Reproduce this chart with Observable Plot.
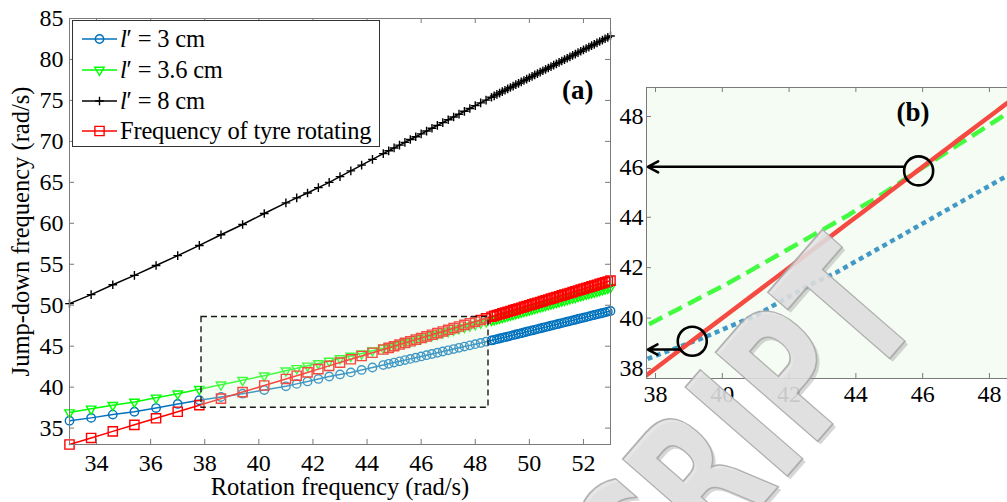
<!DOCTYPE html>
<html>
<head>
<meta charset="utf-8">
<script src="https://cdn.jsdelivr.net/npm/d3@7"></script>
<script src="https://cdn.jsdelivr.net/npm/@observablehq/plot@0.6"></script>
<style>
  html, body { margin: 0; padding: 0; background: #fff; }
  #wrap { position: relative; width: 1007px; height: 502px; overflow: hidden; background: #fff;
          font-family: "Liberation Serif", "Times New Roman", serif; }
  #panelA, #panelB, #legend, #wm { position: absolute; top: 0; }
  #panelA { left: 0; width: 612px; }
  #panelB { left: 600px; width: 434px; }
  #panelA svg, #panelB svg { max-width: none !important; }
  #legend { left: 72px; top: 20px; width: 308px; height: 127px; box-sizing: border-box;
            border: 1px solid #333; background: #fff; }
  .lrow { position: absolute; left: 0; height: 30px; display: flex; align-items: center; }
  .lrow span { font-size: 24.5px; color: #000; white-space: nowrap; margin-left: 1px; letter-spacing: -0.2px; }
  #wm { left: 0; pointer-events: none; }
</style>
</head>
<body>
<div id="wrap">
  <div id="panelA"></div>
  <div id="panelB"></div>
  <div id="legend"></div>
  <svg id="wm" width="1007" height="502"></svg>
</div>
<script>
// ---------- data ----------
const rotation = [33.0,33.8,34.6,35.4,36.2,37.0,37.8,38.6,39.4,40.2,41.0,
  41.4,41.8,42.2,42.6,43.0,43.4,43.8,44.2,44.6,
  44.8,45.0,45.2,45.4,45.6,45.8,46.0,46.2,46.4,46.6,46.8,47.0,47.2,47.4,47.6,47.8,48.0,48.2,48.4,48.6,
  48.7,48.8,48.9,49.0,49.1,49.2,49.3,49.4,49.5,49.6,49.7,49.8,49.9,50.0,50.1,50.2,50.3,50.4,50.5,50.6,
  50.7,50.8,50.9,51.0,51.1,51.2,51.3,51.4,51.5,51.6,51.7,51.8,51.9,52.0,52.1,52.2,52.3,52.4,52.5,52.6,
  52.7,52.8,52.9,53.0];

const jump3 = [35.9,36.25,36.65,37.0,37.45,37.95,38.4,38.8,39.2,39.65,40.1,
  40.4,40.7,41.0,41.3,41.55,41.8,42.1,42.4,42.7,
  42.85,43.0,43.15,43.3,43.45,43.6,43.75,43.9,44.05,44.2,44.35,44.5,44.65,44.8,44.95,45.1,45.25,45.4,45.55,45.7,
  45.78,45.86,45.94,46.02,46.1,46.18,46.27,46.35,46.43,46.51,46.59,46.68,46.76,46.84,46.92,47.0,47.09,47.17,47.25,47.33,
  47.41,47.5,47.58,47.66,47.74,47.82,47.91,47.99,48.07,48.15,48.23,48.32,48.4,48.48,48.56,48.64,48.73,48.81,48.89,48.97,
  49.05,49.14,49.22,49.3];

const jump36 = [36.9,37.35,37.8,38.2,38.7,39.2,39.75,40.3,40.85,41.4,42.0,
  42.3,42.6,42.9,43.2,43.5,43.8,44.1,44.45,44.75,
  44.93,45.1,45.27,45.45,45.62,45.8,45.97,46.14,46.31,46.48,46.65,46.82,46.99,47.16,47.33,47.5,47.67,47.84,48.01,48.18,
  48.27,48.36,48.45,48.54,48.64,48.73,48.82,48.91,49.0,49.09,49.18,49.27,49.36,49.46,49.55,49.64,49.73,49.82,49.91,50.0,
  50.09,50.18,50.28,50.37,50.46,50.55,50.64,50.73,50.82,50.91,51.0,51.1,51.19,51.28,51.37,51.46,51.55,51.64,51.73,51.82,
  51.92,52.01,52.1,52.19];

const jump8 = [50.2,51.3,52.5,53.65,54.85,56.05,57.3,58.6,59.85,61.2,62.5,
  63.1,63.7,64.35,65.0,65.7,66.4,67.1,67.8,68.5,
  68.85,69.2,69.54,69.88,70.23,70.57,70.92,71.26,71.6,71.95,72.29,72.64,72.98,73.32,73.67,74.01,74.36,74.7,75.04,75.39,
  75.56,75.73,75.9,76.07,76.24,76.41,76.58,76.75,76.92,77.09,77.26,77.43,77.6,77.77,77.94,78.11,78.28,78.45,78.62,78.79,
  78.96,79.13,79.3,79.47,79.64,79.81,79.98,80.15,80.32,80.49,80.66,80.83,81.0,81.17,81.34,81.51,81.68,81.85,82.02,82.19,
  82.36,82.53,82.7,82.87];

const tyre = [33.0,33.8,34.6,35.4,36.2,37.0,37.8,38.6,39.4,40.2,41.0,
  41.4,41.8,42.2,42.6,43.0,43.4,43.8,44.2,44.6,
  44.8,45.0,45.2,45.4,45.6,45.8,46.0,46.2,46.4,46.6,46.8,47.0,47.2,47.4,47.6,47.8,48.0,48.2,48.4,48.6,
  48.7,48.8,48.9,49.0,49.1,49.2,49.3,49.4,49.5,49.6,49.7,49.8,49.9,50.0,50.1,50.2,50.3,50.4,50.5,50.6,
  50.7,50.8,50.9,51.0,51.1,51.2,51.3,51.4,51.5,51.6,51.7,51.8,51.9,52.0,52.1,52.2,52.3,52.4,52.5,52.6,
  52.7,52.8,52.9,53.0];

const seriesLabels = ["l′ = 3 cm", "l′ = 3.6 cm", "l′ = 8 cm", "Frequency of tyre rotating"];

const xTicksA = [34,36,38,40,42,44,46,48,50,52];
const yTicksA = [35,40,45,50,55,60,65,70,75,80,85];
const xTicksB = [38,40,42,44,46,48];
const yTicksB = [38,40,42,44,46,48];

// zoomed window drawn in (a)
const boxX = [37.88, 48.49];
const boxY = [37.48, 48.57];

// annotations in (b)
const circleX = [39.1, 45.88];
const circleY = [39.08, 45.84];
const arrowFromX = [38.75, 45.43];
const arrowToX = [37.77, 37.77];
const arrowY = [38.75, 46.0];

const xTitle = "Rotation frequency (rad/s)";
const yTitle = "Jump-down frequency (rad/s)";
const tagA = "(a)";
const tagB = "(b)";
const watermark = "MANUSCRIPT";

// ---------- drawing ----------
const axisGray = "#7a7a7a";
const washColor = "rgb(222,245,215)";
const font = "Liberation Serif, Times New Roman, serif";
const rowsOf = ys => rotation.map((x, i) => ({x, y: ys[i]}));

const series = [
  {label: seriesLabels[0], ys: jump3,  color: "#0072BD", symbol: "circle",   r: 4.2, rotate: 0,   dash: "5,4"},
  {label: seriesLabels[1], ys: jump36, color: "#00FF00", symbol: "triangle", r: 3.5, rotate: 180, dash: "15,7"},
  {label: seriesLabels[2], ys: jump8,  color: "#000000", symbol: "plus",     r: 2.9, rotate: 0,   dash: null},
  {label: seriesLabels[3], ys: tyre,   color: "#FF0000", symbol: "square",   r: 5.2, rotate: 0,   dash: null}
];

const box = [{x1: boxX[0], x2: boxX[1], y1: boxY[0], y2: boxY[1]}];

const plotA = Plot.plot({
  width: 612, height: 502,
  marginLeft: 69, marginRight: 2, marginTop: 18, marginBottom: 58,
  x: {domain: [33, 53]},
  y: {domain: [33, 85]},
  style: {fontFamily: font, fontSize: "24px", color: "#000", background: "transparent", overflow: "visible"},
  marks: [
    ...series.flatMap(s => [
      Plot.line(rowsOf(s.ys), {x: "x", y: "y", stroke: s.color, strokeWidth: 1.5}),
      Plot.dot(rowsOf(s.ys), {x: "x", y: "y", symbol: s.symbol, r: s.r, rotate: s.rotate,
        stroke: s.color, fill: "none", strokeWidth: 1.4})
    ]),
    Plot.rect(box, {x1: "x1", x2: "x2", y1: "y1", y2: "y2", fill: washColor, fillOpacity: 0.3}),
    Plot.rect(box, {x1: "x1", x2: "x2", y1: "y1", y2: "y2", fill: "none", stroke: "#1a1a1a",
      strokeWidth: 1.4, strokeDasharray: "6,4"}),
    Plot.tickX(xTicksA, {x: d => d, insetTop: 421, stroke: axisGray}),
    Plot.tickX(xTicksA, {x: d => d, insetBottom: 421, stroke: axisGray}),
    Plot.tickY(yTicksA, {y: d => d, insetRight: 536, stroke: axisGray}),
    Plot.tickY(yTicksA, {y: d => d, insetLeft: 536, stroke: axisGray}),
    Plot.frame({stroke: axisGray}),
    Plot.axisX(xTicksA, {tickSize: 0, tickPadding: 9, label: null, fontSize: 24}),
    Plot.axisY(yTicksA, {tickSize: 0, tickPadding: 6, label: null, fontSize: 24}),
    Plot.text([xTitle], {frameAnchor: "bottom", dy: 43, textAnchor: "middle", lineAnchor: "middle", fontSize: 24.5}),
    Plot.text([yTitle], {frameAnchor: "left", dx: -48, rotate: -90, textAnchor: "middle", lineAnchor: "middle",
      fontSize: 24.5}),
    Plot.text([tagA], {frameAnchor: "top-right", dx: -17, dy: 72, textAnchor: "end", lineAnchor: "middle",
      fontSize: 27, fontWeight: "bold"})
  ]
});
document.getElementById("panelA").appendChild(plotA);

const arrows = arrowY.map((y, i) => ({x1: arrowFromX[i], x2: arrowToX[i], y}));
const circles = circleX.map((x, i) => ({x, y: circleY[i]}));
const bSeries = [series[0], series[1], series[3]];

const plotB = Plot.plot({
  width: 434, height: 502,
  marginLeft: 46, marginRight: 5, marginTop: 87, marginBottom: 124,
  x: {domain: [37.73, 49.2]},
  y: {domain: [37.6, 49.15]},
  style: {fontFamily: font, fontSize: "24px", color: "#000", background: "transparent", overflow: "visible"},
  marks: [
    ...bSeries.map(s => Plot.line(rowsOf(s.ys), {x: "x", y: "y", stroke: s.color, strokeWidth: 4.5,
      strokeDasharray: s.dash, strokeLinecap: "butt", clip: true})),
    Plot.frame({fill: washColor, fillOpacity: 0.3}),
    Plot.tickX(xTicksB, {x: d => d, insetTop: 286, stroke: axisGray}),
    Plot.tickX(xTicksB, {x: d => d, insetBottom: 286, stroke: axisGray}),
    Plot.tickY(yTicksB, {y: d => d, insetRight: 378, stroke: axisGray}),
    Plot.frame({stroke: axisGray}),
    Plot.axisX(xTicksB, {tickSize: 0, tickPadding: 6, label: null, fontSize: 24}),
    Plot.axisY(yTicksB, {tickSize: 0, tickPadding: 3, label: null, fontSize: 24}),
    Plot.arrow(arrows, {x1: "x1", y1: "y", x2: "x2", y2: "y", stroke: "#000", strokeWidth: 2.5,
      headLength: 7, headAngle: 56}),
    Plot.dot(circles, {x: "x", y: "y", r: 14.5, stroke: "#000", strokeWidth: 2.6, fill: "none"}),
    Plot.text([tagB], {frameAnchor: "top-left", dx: 250, dy: 25, textAnchor: "start", lineAnchor: "middle",
      fontSize: 27, fontWeight: "bold"})
  ]
});
document.getElementById("panelB").appendChild(plotB);

// ---------- legend ----------
const legend = d3.select("#legend");
const rowTops = [3, 34, 64.5, 95];
series.forEach((s, i) => {
  const row = legend.append("div").attr("class", "lrow").style("top", rowTops[i] + "px");
  const sw = row.append("svg").attr("width", 46).attr("height", 30);
  sw.append("line").attr("x1", 9).attr("x2", 44).attr("y1", 15).attr("y2", 15)
    .attr("stroke", s.color).attr("stroke-width", 1.5);
  const sym = d3.symbol().type({circle: d3.symbolCircle, triangle: d3.symbolTriangle,
    plus: d3.symbolPlus, square: d3.symbolSquare}[s.symbol]).size(Math.PI * s.r * s.r);
  sw.append("path").attr("d", sym()).attr("fill", "none").attr("stroke", s.color).attr("stroke-width", 1.4)
    .attr("transform", `translate(26.5,15) rotate(${s.rotate})`);
  const span = row.append("span");
  if (s.label.startsWith("l′")) {
    span.append("i").text("l");
    span.append("tspan").text(s.label.slice(1));
  } else {
    span.text(s.label);
  }
});

// ---------- watermark ----------
const wm = d3.select("#wm");
const wmTransform = (dx, dy) => `translate(${925 + dx},${318 + dy}) rotate(-49) scale(0.665,1)`;
wm.append("text")
  .attr("transform", wmTransform(3, 3))
  .attr("text-anchor", "end")
  .attr("font-family", "DejaVu Sans, sans-serif").attr("font-weight", "bold").attr("font-size", 186)
  .attr("fill", "#8c8c8c").attr("fill-opacity", 0.35)
  .text(watermark);
wm.append("text")
  .attr("transform", wmTransform(0, 0))
  .attr("text-anchor", "end")
  .attr("font-family", "DejaVu Sans, sans-serif").attr("font-weight", "bold").attr("font-size", 186)
  .attr("fill", "#e2e2e2").attr("fill-opacity", 0.85)
  .attr("stroke", "#a6a6a6").attr("stroke-width", 1.8).attr("stroke-opacity", 0.85)
  .text(watermark);
</script>
</body>
</html>
